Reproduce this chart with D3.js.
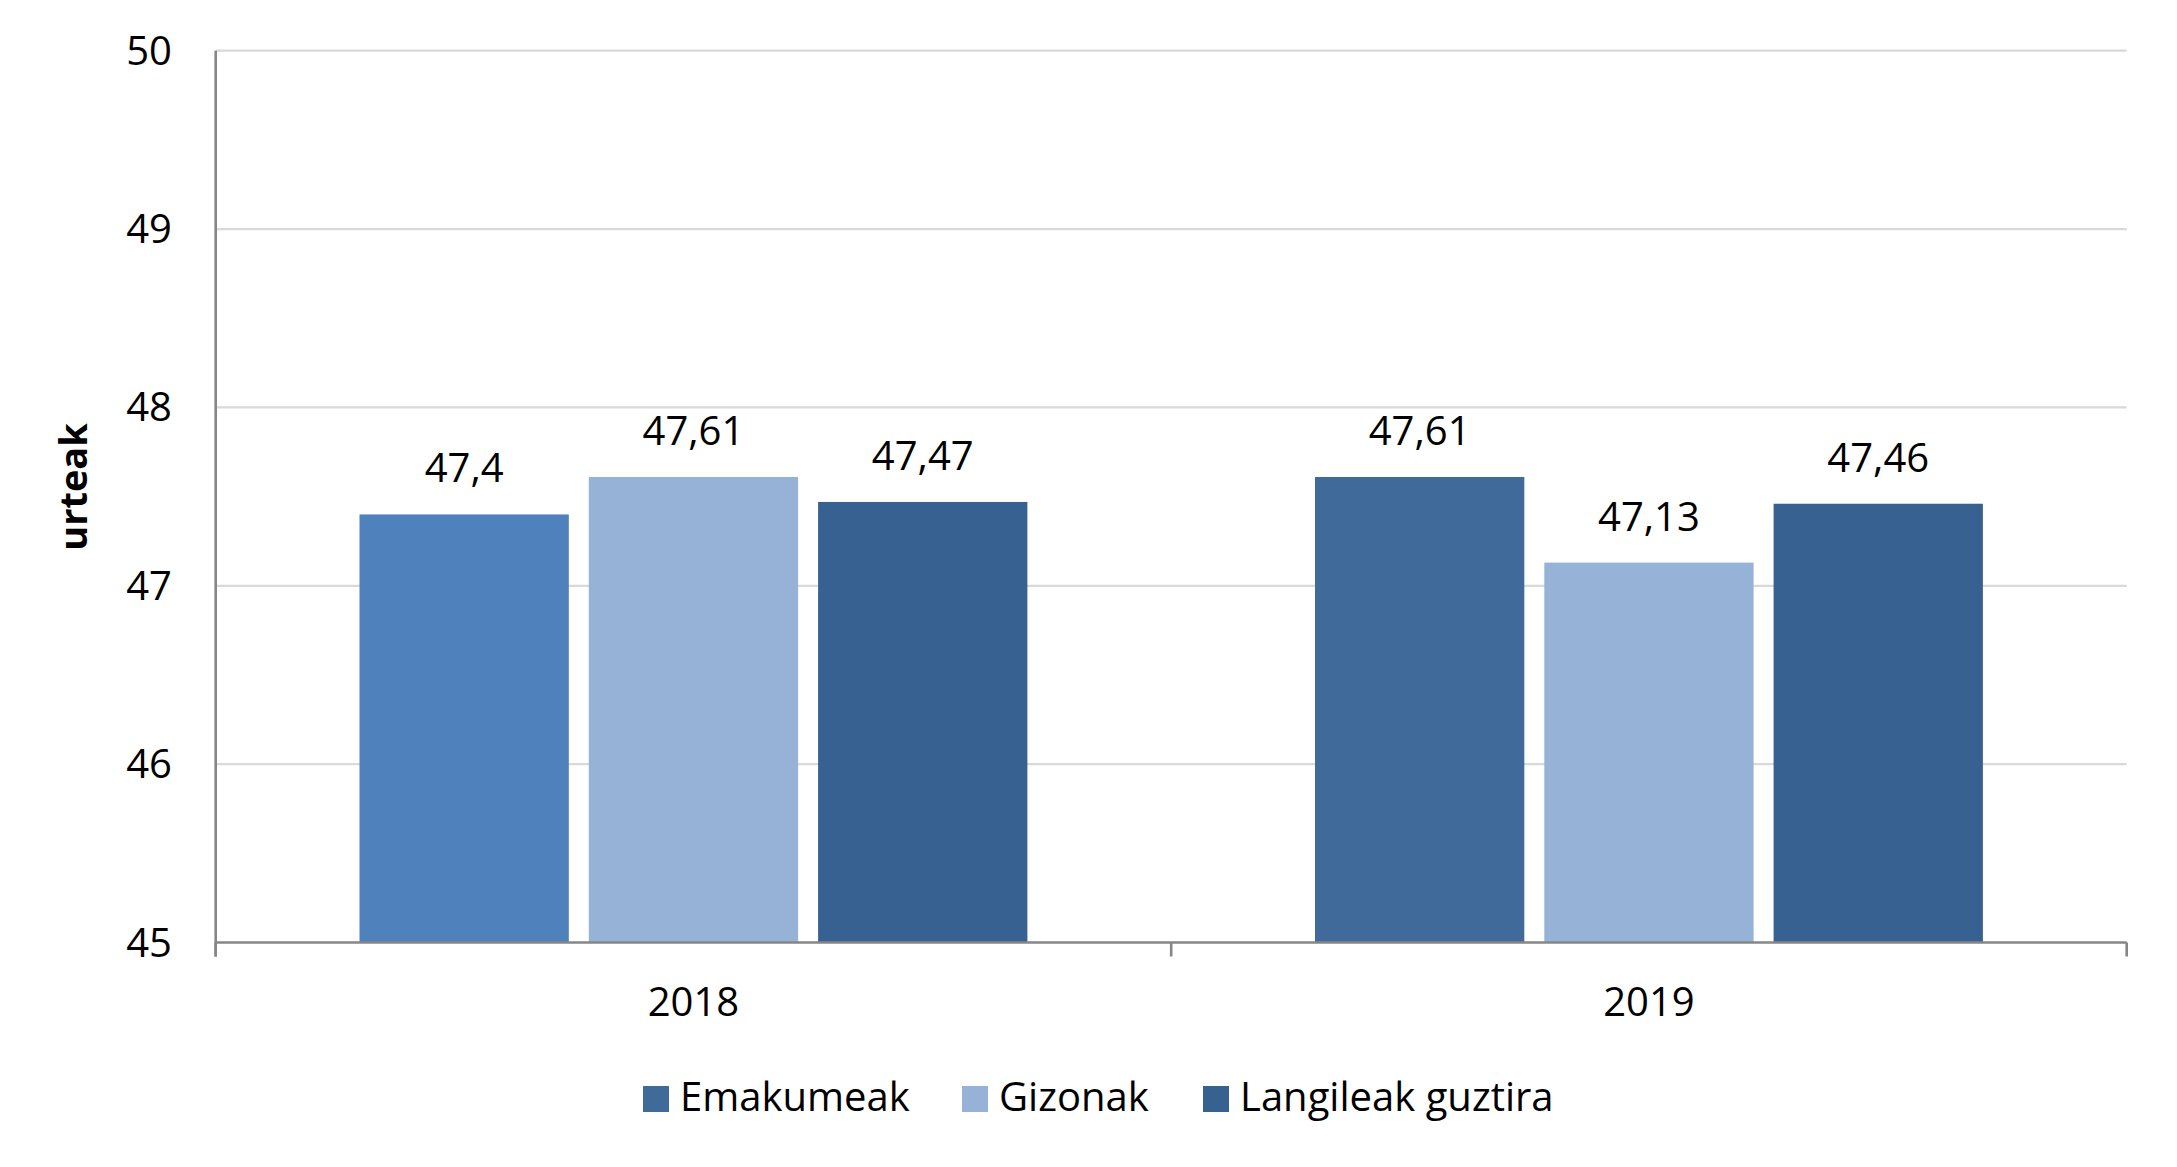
<!DOCTYPE html>
<html>
<head>
<meta charset="utf-8">
<script src="https://cdn.jsdelivr.net/npm/d3@7"></script>
<style>
  html, body { margin: 0; padding: 0; background: #ffffff; }
  svg { display: block; font-family: "Open Sans", "Noto Sans", sans-serif; }
</style>
</head>
<body>
<svg id="chart" width="2177" height="1167"></svg>
<script>
const categories = ["2018", "2019"];
const seriesNames = ["Emakumeak", "Gizonak", "Langileak guztira"];
const emakumeak = [47.4, 47.61];
const gizonak = [47.61, 47.13];
const langileak = [47.47, 47.46];
const valueLabels = [["47,4", "47,61"], ["47,61", "47,13"], ["47,47", "47,46"]];
const yTicks = [45, 46, 47, 48, 49, 50];
const yTitle = "urteak";

const seriesValues = [emakumeak, gizonak, langileak];
// colour per series per category (Emakumeak 2018 is drawn lighter in the original)
const barColors = [["#4F81BD", "#406A9A"], ["#96B3D7", "#96B3D7"], ["#376191", "#376191"]];
const legendColors = ["#406A9A", "#96B3D7", "#376191"];

const svg = d3.select("#chart");
const plot = { left: 215.7, right: 2126.7, top: 50.7, bottom: 942.5 };

const y = d3.scaleLinear().domain([45, 50]).range([plot.bottom, plot.top]);
const x0 = d3.scaleBand().domain(categories).range([plot.left, plot.right]).padding(0);
const bw = x0.bandwidth();
const groupOffset = bw * 0.1505;
const groupWidth = bw * 0.699;
const x1 = d3.scaleBand().domain(seriesNames)
  .range([groupOffset, groupOffset + groupWidth])
  .paddingInner(0.0872).paddingOuter(0);

// gridlines
svg.append("g").selectAll("line").data(yTicks.filter(t => t !== 45)).join("line")
  .attr("x1", plot.left).attr("x2", plot.right)
  .attr("y1", d => y(d)).attr("y2", d => y(d))
  .attr("stroke", "#D9D9D9").attr("stroke-width", 2.2);

// y tick labels
svg.append("g").selectAll("text").data(yTicks).join("text")
  .attr("x", 172).attr("y", d => y(d) + 14)
  .attr("text-anchor", "end")
  .attr("font-size", 40).attr("fill", "#000")
  .text(d => d);

// bars
const rows = [];
seriesNames.forEach((s, si) => categories.forEach((c, ci) => {
  rows.push({ s, si, c, ci, v: seriesValues[si][ci], label: valueLabels[si][ci] });
}));

svg.append("g").selectAll("rect").data(rows).join("rect")
  .attr("x", d => x0(d.c) + x1(d.s))
  .attr("y", d => y(d.v))
  .attr("width", x1.bandwidth())
  .attr("height", d => y(45) - y(d.v))
  .attr("fill", d => barColors[d.si][d.ci]);

svg.append("g").selectAll("text").data(rows).join("text")
  .attr("x", d => x0(d.c) + x1(d.s) + x1.bandwidth() / 2)
  .attr("y", d => y(d.v) - 32)
  .attr("text-anchor", "middle")
  .attr("font-size", 40).attr("fill", "#000")
  .text(d => d.label);

// axes
const axisColor = "#868686";
svg.append("line")
  .attr("x1", plot.left).attr("x2", plot.left)
  .attr("y1", plot.top).attr("y2", plot.bottom + 14)
  .attr("stroke", axisColor).attr("stroke-width", 2.6);
svg.append("line")
  .attr("x1", plot.left).attr("x2", plot.right)
  .attr("y1", plot.bottom).attr("y2", plot.bottom)
  .attr("stroke", axisColor).attr("stroke-width", 2.6);
const tickXs = categories.map(c => x0(c)).concat([x0(categories[categories.length - 1]) + bw]);
svg.append("g").selectAll("line").data(tickXs).join("line")
  .attr("x1", d => d).attr("x2", d => d)
  .attr("y1", plot.bottom).attr("y2", plot.bottom + 14)
  .attr("stroke", axisColor).attr("stroke-width", 2.6);

// category labels
svg.append("g").selectAll("text").data(categories).join("text")
  .attr("x", d => x0(d) + bw / 2).attr("y", 1016)
  .attr("text-anchor", "middle")
  .attr("font-size", 40).attr("fill", "#000")
  .text(d => d);

// y title
svg.append("text")
  .attr("transform", "translate(87,487) rotate(-90)")
  .attr("text-anchor", "middle")
  .attr("font-size", 38).attr("font-weight", "bold").attr("fill", "#000")
  .text(yTitle);

// legend
const legendItems = [
  { name: seriesNames[0], x: 643 },
  { name: seriesNames[1], x: 962 },
  { name: seriesNames[2], x: 1203 }
];
const lg = svg.append("g");
legendItems.forEach((it, i) => {
  lg.append("rect").attr("x", it.x).attr("y", 1086).attr("width", 26).attr("height", 26)
    .attr("fill", legendColors[i]);
  lg.append("text").attr("x", it.x + 37).attr("y", 1111)
    .attr("font-size", 40).attr("fill", "#000").text(it.name);
});
</script>
</body>
</html>
